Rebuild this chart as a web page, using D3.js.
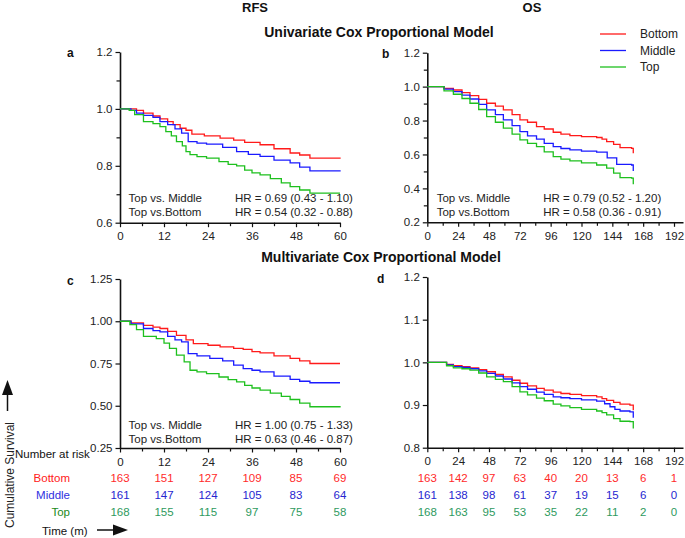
<!DOCTYPE html>
<html><head><meta charset="utf-8">
<script src="https://cdn.jsdelivr.net/npm/d3@7"></script>
<style>body{margin:0;background:#fff}svg{display:block;font-family:"Liberation Sans",Arial,sans-serif}</style>
</head><body><svg id="c" width="685" height="538"></svg>
<script>
// ---------- data ----------
const groups = ["Bottom", "Middle", "Top"];

// Panel a: RFS, univariate  [month, survival]
const aBottom = [[0,1],[3,1],[4.5,0.995],[6.4,0.985],[9,0.975],[10.9,0.965],[13,0.955],[14.5,0.945],[16.4,0.932],[18,0.925],[19.6,0.911],[23,0.905],[27.3,0.897],[31,0.89],[34,0.882],[38.2,0.874],[42,0.86],[46.4,0.845],[49,0.838],[51.8,0.827],[60,0.825]];
const aMiddle = [[0,1],[3,0.995],[4.5,0.985],[6.4,0.977],[9,0.97],[10.9,0.955],[13,0.945],[15,0.93],[16.8,0.915],[18.6,0.885],[21,0.88],[23.6,0.876],[28,0.865],[31.8,0.85],[35,0.84],[38.2,0.833],[42,0.82],[46.4,0.81],[49,0.795],[51.8,0.782],[60,0.78]];
const aTop = [[0,1],[2.5,0.995],[4,0.98],[6.4,0.955],[9,0.948],[10.9,0.938],[12.5,0.92],[14,0.905],[15.4,0.885],[17,0.87],[18,0.85],[19.1,0.839],[21,0.832],[23.6,0.827],[27,0.815],[29.5,0.805],[31.8,0.80],[34,0.785],[36,0.775],[38.2,0.768],[41,0.755],[44,0.74],[46.4,0.727],[49,0.715],[51.8,0.704],[60,0.704]];

// Panel b: OS, univariate
const bBottom = [[0,1],[8.6,1],[13,0.99],[20.3,0.98],[27,0.965],[33.2,0.947],[40,0.925],[46.2,0.902],[53,0.885],[59.2,0.863],[66,0.835],[72.1,0.804],[78,0.79],[85,0.764],[91,0.75],[98,0.731],[104,0.72],[111,0.711],[120,0.705],[131.8,0.70],[136,0.69],[139.6,0.676],[145,0.66],[150,0.64],[159,0.636],[160.3,0.607]];
const bMiddle = [[0,1],[8.6,1],[13,0.985],[20.3,0.97],[27,0.95],[33.2,0.927],[40,0.895],[46.2,0.863],[53,0.835],[59.2,0.804],[66,0.77],[72.1,0.735],[78,0.71],[85,0.69],[91,0.665],[98,0.646],[104,0.635],[111,0.627],[120,0.62],[131.8,0.614],[140,0.58],[147.4,0.542],[159,0.538],[160.3,0.503]];
const bTop = [[0,1],[8.6,1],[13,0.975],[20.3,0.955],[27,0.93],[33.2,0.902],[40,0.865],[46.2,0.823],[53,0.79],[59.2,0.755],[66,0.72],[72.1,0.686],[78,0.665],[85,0.646],[91,0.615],[98,0.587],[104,0.572],[111,0.562],[120,0.55],[131.8,0.538],[139.6,0.519],[145,0.49],[150,0.463],[159,0.46],[160.3,0.424]];

// Panel c: RFS, multivariate
const cBottom = [[0,1],[3,0.99],[6.4,0.976],[9,0.965],[10.9,0.957],[13,0.94],[15.4,0.917],[18,0.89],[20,0.868],[24,0.858],[27.3,0.848],[31,0.84],[33.6,0.833],[36,0.82],[38.2,0.813],[42,0.795],[46.4,0.78],[49,0.765],[51.8,0.75],[60,0.75]];
const cMiddle = [[0,1],[3,0.985],[6.4,0.957],[9,0.945],[10.9,0.937],[13,0.91],[15,0.89],[16.8,0.878],[18.6,0.809],[21,0.795],[24.5,0.78],[28,0.765],[31,0.74],[33.6,0.72],[36,0.71],[38.2,0.70],[42,0.675],[46.4,0.656],[49,0.645],[51.8,0.636],[60,0.636]];
const cTop = [[0,1],[2.7,0.98],[4.5,0.95],[6.4,0.911],[9.9,0.897],[12,0.87],[13.5,0.84],[15.4,0.80],[17.5,0.76],[19.1,0.71],[21,0.70],[23.6,0.69],[27,0.67],[29.5,0.655],[31.8,0.641],[34,0.62],[36,0.605],[38.2,0.592],[41,0.575],[44,0.555],[46.4,0.537],[49,0.515],[51.8,0.494],[60,0.49]];

// Panel d: OS, multivariate
const dBottom = [[0,1],[9.9,1],[15,0.995],[20.3,0.992],[27,0.99],[33.2,0.987],[40,0.983],[46.2,0.978],[53,0.972],[59.2,0.966],[66,0.958],[72.1,0.951],[78,0.945],[85,0.939],[91,0.935],[98,0.93],[104,0.927],[111,0.925],[120,0.922],[131.8,0.919],[136,0.915],[139.6,0.911],[145,0.906],[150,0.902],[157.7,0.90],[160.3,0.888]];
const dMiddle = [[0,1],[9.9,1],[15,0.994],[20.3,0.99],[27,0.988],[33.2,0.985],[40,0.98],[46.2,0.974],[53,0.968],[59.2,0.961],[66,0.952],[72.1,0.943],[78,0.937],[85,0.93],[91,0.925],[98,0.919],[104,0.917],[111,0.915],[120,0.912],[131.8,0.909],[138,0.903],[142.2,0.896],[146,0.89],[150,0.886],[157.7,0.884],[160.3,0.87]];
const dTop = [[0,1],[9.9,1],[15,0.992],[20.3,0.987],[27,0.985],[33.2,0.982],[40,0.975],[46.2,0.966],[53,0.96],[59.2,0.955],[66,0.943],[72.1,0.931],[78,0.924],[85,0.916],[91,0.91],[98,0.902],[104,0.898],[111,0.894],[120,0.89],[131.8,0.886],[136,0.882],[139.6,0.877],[145,0.868],[150,0.862],[157.7,0.861],[160.3,0.845]];

// Number at risk
const rfsRiskTimes = [0,12,24,36,48,60];
const rfsRiskBottom = [163,151,127,109,85,69];
const rfsRiskMiddle = [161,147,124,105,83,64];
const rfsRiskTop = [168,155,115,97,75,58];
const osRiskTimes = [0,24,48,72,96,120,144,168,192];
const osRiskBottom = [163,142,97,63,40,20,13,6,1];
const osRiskMiddle = [161,138,98,61,37,19,15,6,0];
const osRiskTop = [168,163,95,53,35,22,11,2,0];

// Tick values
const rfsXTicks = [0,12,24,36,48,60];
const osXTicks = [0,24,48,72,96,120,144,168,192];
const aYTicks = [0.6,0.8,1.0,1.2];
const bYTicks = [0.2,0.4,0.6,0.8,1.0,1.2];
const cYTicks = [0.25,0.50,0.75,1.00,1.25];
const dYTicks = [0.8,0.9,1.0,1.1,1.2];

// HR text
const hrLabels = ["Top vs. Middle", "Top vs.Bottom"];
const aHR = ["HR = 0.69 (0.43 - 1.10)", "HR = 0.54 (0.32 - 0.88)"];
const bHR = ["HR = 0.79 (0.52 - 1.20)", "HR = 0.58 (0.36 - 0.91)"];
const cHR = ["HR = 1.00 (0.75 - 1.33)", "HR = 0.63 (0.46 - 0.87)"];

// ---------- styles ----------
const lineColors = {Bottom:"#ff1a1a", Middle:"#1a1aff", Top:"#1ec01e"};
const numColors = {Bottom:"#ff2a2a", Middle:"#2626d0", Top:"#2e9a5e"};
const labColors = {Bottom:"#ff2020", Middle:"#3030e0", Top:"#1a8a1a"};
const FONT = 11.5;

const svg = d3.select("#c");

function panel(o) {
  const x = d3.scaleLinear().domain(o.xDom).range(o.xRange);
  const y = d3.scaleLinear().domain(o.yDom).range(o.yRange);
  const g = svg.append("g");
  // x minor
  g.append("g").attr("transform", `translate(0,${o.yRange[0]})`)
    .call(d3.axisBottom(x).tickValues(o.xMinor).tickSize(3.5).tickSizeOuter(0).tickFormat(""))
    .call(s => s.select(".domain").remove());
  // x major
  g.append("g").attr("transform", `translate(0,${o.yRange[0]})`)
    .call(d3.axisBottom(x).tickValues(o.xTicks).tickSize(4.5).tickSizeOuter(0).tickPadding(5).tickFormat(d3.format("d")))
    .call(s => s.selectAll("text").attr("font-size", FONT).attr("fill", "#222").attr("font-family", "Liberation Sans, Arial, sans-serif"));
  // y minor
  if (o.yMinor) {
    g.append("g").attr("transform", `translate(${o.xRange[0]},0)`)
      .call(d3.axisLeft(y).tickValues(o.yMinor).tickSize(3.5).tickSizeOuter(0).tickFormat(""))
      .call(s => s.select(".domain").remove());
  }
  g.append("g").attr("transform", `translate(${o.xRange[0]},0)`)
    .call(d3.axisLeft(y).tickValues(o.yTicks).tickSize(4.5).tickSizeOuter(0).tickPadding(3).tickFormat(d3.format(o.yFmt)))
    .call(s => s.selectAll("text").attr("font-size", FONT).attr("fill", "#222").attr("font-family", "Liberation Sans, Arial, sans-serif"));
  g.selectAll(".domain").attr("stroke", "#111").attr("stroke-width", 1.6);
  g.selectAll(".tick line").attr("stroke", "#111").attr("stroke-width", 1.2);

  const line = d3.line().x(d => x(d[0])).y(d => y(d[1])).curve(d3.curveStepAfter);
  o.series.forEach((s, i) => {
    g.append("path").datum(s).attr("d", line).attr("fill", "none")
      .attr("stroke", lineColors[groups[i]]).attr("stroke-width", 1.3);
  });
  // panel letter
  g.append("text").attr("x", o.letterPos[0]).attr("y", o.letterPos[1]).text(o.letter)
    .attr("font-weight", "bold").attr("font-size", 12).attr("fill", "#111");
  if (o.hr) {
    hrLabels.forEach((t, i) => {
      g.append("text").attr("x", o.hrX[0]).attr("y", o.hrY + i * 14.3).text(t).attr("font-size", FONT).attr("fill", "#222");
      g.append("text").attr("x", o.hrX[1]).attr("y", o.hrY + i * 14.3).text(o.hr[i]).attr("font-size", FONT).attr("fill", "#222");
    });
  }
  return {x, y};
}

const rfsMinor = d3.range(6, 61, 12);
const osMinor = d3.range(12, 200, 24);

panel({xDom:[0,60], xRange:[120,340], yDom:[0.6,1.2], yRange:[222.7,52], xTicks:rfsXTicks, xMinor:rfsMinor,
  yTicks:aYTicks, yMinor:[0.7,0.9,1.1], yFmt:".1f", series:[aBottom,aMiddle,aTop], letter:"a", letterPos:[67,57],
  hr:aHR, hrX:[128.5,235], hrY:202});
panel({xDom:[0,199], xRange:[427.3,683], yDom:[0.2,1.2], yRange:[222.3,52.7], xTicks:osXTicks, xMinor:osMinor,
  yTicks:bYTicks, yMinor:[0.3,0.5,0.7,0.9,1.1], yFmt:".1f", series:[bBottom,bMiddle,bTop], letter:"b", letterPos:[382,58],
  hr:bHR, hrX:[436.7,543.3], hrY:202});
const pc = panel({xDom:[0,60], xRange:[120,340], yDom:[0.25,1.25], yRange:[448,279], xTicks:rfsXTicks, xMinor:rfsMinor,
  yTicks:cYTicks, yMinor:null, yFmt:".2f", series:[cBottom,cMiddle,cTop], letter:"c", letterPos:[67,285],
  hr:cHR, hrX:[128.5,235], hrY:428.5});
const pd = panel({xDom:[0,199], xRange:[427.3,683], yDom:[0.8,1.2], yRange:[447.7,277], xTicks:osXTicks, xMinor:osMinor,
  yTicks:dYTicks, yMinor:null, yFmt:".1f", series:[dBottom,dMiddle,dTop], letter:"d", letterPos:[377,283]});

// risk table
const riskRows = [
  {name:"Bottom", rfs:rfsRiskBottom, os:osRiskBottom, y:481.5},
  {name:"Middle", rfs:rfsRiskMiddle, os:osRiskMiddle, y:498.5},
  {name:"Top", rfs:rfsRiskTop, os:osRiskTop, y:515.5}
];
riskRows.forEach(r => {
  svg.append("text").attr("x", 70).attr("y", r.y).attr("text-anchor", "end").text(r.name)
    .attr("font-size", FONT).attr("fill", labColors[r.name]);
  svg.selectAll(null).data(r.rfs).enter().append("text")
    .attr("x", (d, i) => pc.x(rfsRiskTimes[i])).attr("y", r.y).attr("text-anchor", "middle")
    .text(d => d).attr("font-size", FONT).attr("fill", numColors[r.name]);
  svg.selectAll(null).data(r.os).enter().append("text")
    .attr("x", (d, i) => pd.x(osRiskTimes[i])).attr("y", r.y).attr("text-anchor", "middle")
    .text(d => d).attr("font-size", FONT).attr("fill", numColors[r.name]);
});
svg.append("text").attr("x", 15).attr("y", 458).text("Number at risk").attr("font-size", FONT).attr("fill", "#111");

// titles
svg.append("text").attr("x", 255).attr("y", 12).attr("text-anchor", "middle").text("RFS")
  .attr("font-weight", "bold").attr("font-size", 13).attr("fill", "#111");
svg.append("text").attr("x", 532).attr("y", 12).attr("text-anchor", "middle").text("OS")
  .attr("font-weight", "bold").attr("font-size", 13).attr("fill", "#111");
svg.append("text").attr("x", 379).attr("y", 37).attr("text-anchor", "middle").text("Univariate Cox Proportional Model")
  .attr("font-weight", "bold").attr("font-size", 14).attr("fill", "#111");
svg.append("text").attr("x", 381).attr("y", 262).attr("text-anchor", "middle").text("Multivariate Cox Proportional Model")
  .attr("font-weight", "bold").attr("font-size", 14).attr("fill", "#111");

// legend
groups.forEach((gname, i) => {
  const yy = 34 + i * 16.5;
  svg.append("line").attr("x1", 600).attr("x2", 626).attr("y1", yy).attr("y2", yy)
    .attr("stroke", lineColors[gname]).attr("stroke-width", 1.3);
  svg.append("text").attr("x", 640).attr("y", yy + 4).text(gname).attr("font-size", 12).attr("fill", "#222");
});

// axis annotations
svg.append("text").attr("transform", "translate(14,475) rotate(-90)").attr("text-anchor", "middle")
  .text("Cumulative Survival").attr("font-size", 12).attr("fill", "#222");
svg.append("line").attr("x1", 7.5).attr("x2", 7.5).attr("y1", 411).attr("y2", 393).attr("stroke", "#111").attr("stroke-width", 1.5);
svg.append("path").attr("d", "M2,395 L13,395 L7.5,380 Z").attr("fill", "#111");
svg.append("text").attr("x", 42).attr("y", 535).text("Time (m)").attr("font-size", FONT).attr("fill", "#111");
svg.append("line").attr("x1", 97).attr("x2", 114).attr("y1", 530).attr("y2", 530).attr("stroke", "#111").attr("stroke-width", 1.5);
svg.append("path").attr("d", "M113,524.5 L113,535.5 L128,530 Z").attr("fill", "#111");
</script></body></html>
